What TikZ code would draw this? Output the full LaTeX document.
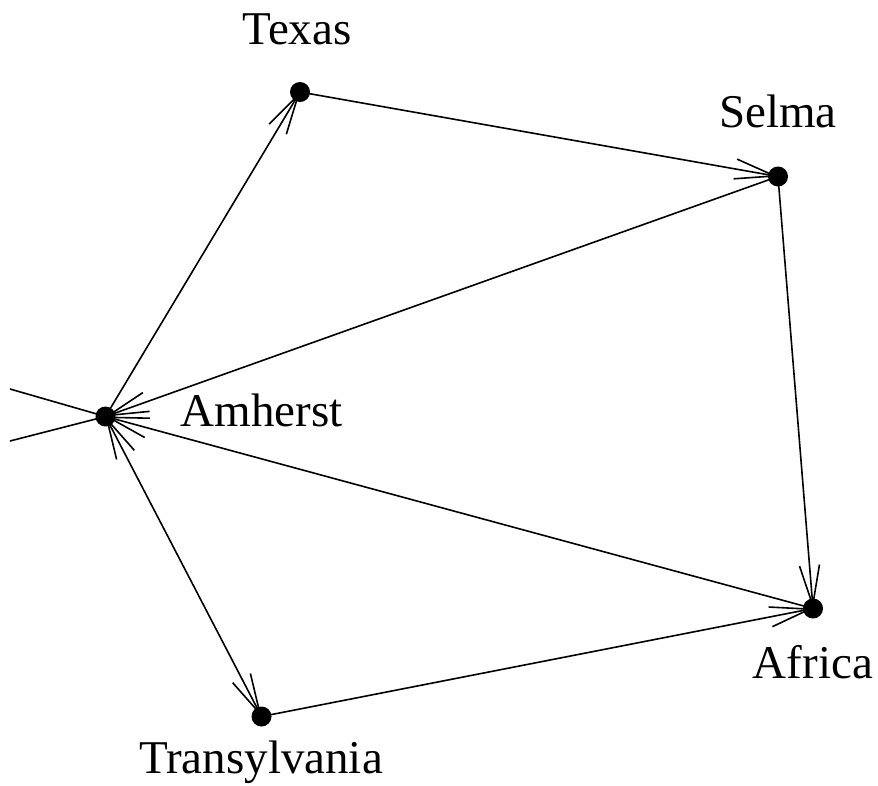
\documentclass[tikz,border=0pt]{standalone}
\usepackage{fontspec}
\setmainfont{Liberation Serif}
\usetikzlibrary{arrows.meta}

\begin{document}
\begin{tikzpicture}[x=1pt,y=-1pt,
  barb/.tip={Straight Barb[length=40pt,width=20pt,line width=1.6pt]},
  edge/.style={line width=1.6pt,-barb},
  biedge/.style={line width=1.6pt,barb-barb},
  plain/.style={line width=1.6pt},
  dot/.style={circle,fill=black,inner sep=0pt,minimum size=20pt},
  city/.style={anchor=base,inner sep=0pt,font=\fontsize{47}{56}\selectfont}]
  \useasboundingbox (0,0) rectangle (878,785);

  % vertex positions
  \coordinate (tx) at (300,92);
  \coordinate (se) at (778,176.5);
  \coordinate (am) at (105.5,416.5);
  \coordinate (af) at (813,608.5);
  \coordinate (tr) at (261.5,716.5);
  % loop at Amherst leaving to the left
  \coordinate (loopa) at (10,389);
  \coordinate (loopb) at (10,441);

  % connectors
  \draw[edge] (am) -- (tx);
  \draw[edge] (tx) -- (se);
  \draw[edge] (se) -- (am);
  \draw[edge] (se) -- (af);
  \draw[edge] (af) -- (am);
  \draw[biedge] (am) -- (tr);
  \draw[edge] (tr) -- (af);
  \draw[plain] (loopa) -- (am) -- (loopb);

  % vertices
  \node[dot] (Texas) at (tx) {};
  \node[dot] (Selma) at (se) {};
  \node[dot] (Amherst) at (am) {};
  \node[dot] (Africa) at (af) {};
  \node[dot] (Transylvania) at (tr) {};

  % labels
  \node[city] (lTexas) at (297,44) {Texas};
  \node[city] (lSelma) at (778,127.3) {Selma};
  \node[city] (lAmherst) at (261.5,426.7) {Amherst};
  \node[city] (lAfrica) at (813,678) {Africa};
  \node[city] (lTransylvania) at (261,773) {Transylvania};
\end{tikzpicture}
\end{document}
